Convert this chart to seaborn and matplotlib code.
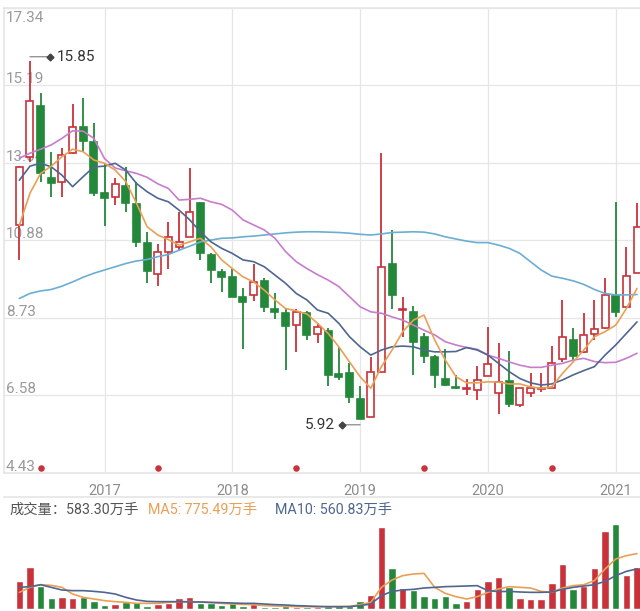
import numpy as np
import pandas as pd
import matplotlib
matplotlib.use("Agg")
import matplotlib.pyplot as plt
import matplotlib.transforms as mtransforms
import seaborn as sns

# monthly K-line, 2016-05 .. 2021-03 (59 candles)
open_px = [11.31, 13.2, 14.61, 12.62, 12.51, 13.31, 14.02, 13.62, 12.2, 12.08,
           12.4, 11.88, 10.82, 9.94, 10.57, 10.7, 10.98, 11.93, 10.47, 10.01,
           9.86, 9.3, 9.37, 9.75, 8.99, 8.86, 8.53, 8.86, 8.28, 8.38,
           7.17, 7.21, 6.47, 5.99, 7.24, 10.22, 8.95, 8.9, 8.21, 7.64,
           7.05, 6.82, 6.76, 6.73, 7.12, 6.65, 6.99, 6.31, 6.65, 6.76,
           6.8, 7.58, 8.13, 7.79, 8.28, 8.44, 9.34, 9.02, 9.98]
close_px = [12.91, 14.75, 12.74, 12.48, 13.25, 14.02, 13.65, 12.2, 12.06, 12.44,
            11.91, 10.84, 10.03, 10.57, 10.98, 10.85, 11.68, 10.52, 10.06, 9.87,
            9.32, 9.18, 9.73, 9.04, 8.9, 8.5, 8.9, 8.26, 8.49, 7.15,
            7.1, 6.53, 5.94, 7.24, 10.13, 9.37, 8.99, 8.07, 7.67, 7.15,
            6.87, 6.78, 6.8, 7.02, 7.44, 6.96, 6.34, 6.78, 6.8, 6.8,
            7.49, 8.19, 7.67, 8.26, 8.41, 9.37, 8.9, 9.89, 11.26]
high_px = [12.95, 15.85, 14.96, 13.34, 13.43, 14.66, 14.82, 14.14, 13.02, 12.6,
           12.91, 12.51, 11.12, 10.78, 11.4, 11.68, 12.88, 11.95, 10.54, 10.1,
           10.1, 9.55, 10.22, 9.83, 9.41, 8.97, 8.97, 8.93, 8.58, 8.44,
           7.93, 7.47, 6.84, 7.65, 13.31, 11.17, 9.32, 9.06, 8.3, 7.7,
           7.88, 7.15, 7.05, 7.39, 8.49, 8.03, 7.82, 6.78, 7.19, 7.19,
           7.95, 9.23, 8.44, 8.86, 9.23, 9.83, 11.95, 10.69, 11.93]
low_px = [10.34, 13.05, 12.51, 12.09, 12.09, 13.28, 13.34, 12.11, 11.28, 11.86,
          11.68, 10.7, 9.69, 9.62, 10.08, 10.6, 10.98, 10.35, 9.69, 9.44,
          9.32, 7.86, 9.21, 8.9, 8.69, 7.3, 7.79, 8.12, 8.03, 6.84,
          7.01, 6.36, 5.92, 5.99, 7.24, 8.99, 8.21, 7.15, 7.47, 6.78,
          6.84, 6.77, 6.59, 6.45, 7.12, 6.08, 6.27, 6.27, 6.55, 6.68,
          6.8, 7.51, 7.56, 7.77, 8.12, 8.41, 8.76, 9.0, 9.98]

# moving averages as drawn on the chart
ma5 = [11.3, 12.19, 12.74, 12.94, 13.2, 13.41, 13.34, 13.11, 13.02, 12.83,
       12.51, 11.91, 11.26, 11.03, 10.9, 10.75, 10.84, 10.94, 10.7, 10.34,
       10.1, 9.87, 9.73, 9.5, 9.23, 8.99, 8.93, 8.84, 8.58, 8.3,
       7.93, 7.51, 7.1, 6.78, 7.38, 7.84, 8.35, 8.67, 8.81, 8.12,
       7.56, 7.1, 6.93, 6.93, 6.96, 6.95, 6.9, 6.9, 6.82, 6.78,
       6.82, 7.19, 7.51, 7.84, 8.21, 8.35, 8.53, 8.99, 9.55]
ma10 = [12.55, 12.94, 13.02, 12.92, 12.69, 12.37, 12.65, 12.92, 12.94, 13.02,
        12.83, 12.46, 12.23, 12.05, 11.95, 11.72, 11.45, 11.12, 10.84, 10.66,
        10.52, 10.34, 10.29, 10.15, 9.92, 9.69, 9.41, 9.23, 8.95, 8.86,
        8.58, 8.21, 7.93, 7.7, 7.84, 7.93, 7.95, 7.93, 7.84, 7.79,
        7.79, 7.8, 7.91, 7.84, 7.7, 7.47, 7.24, 7.05, 6.93, 6.87,
        6.9, 7.01, 7.15, 7.27, 7.38, 7.7, 7.98, 8.3, 8.62]
ma20 = [13.16, 13.3, 13.41, 13.53, 13.71, 13.92, 13.91, 13.71, 13.15, 12.89,
        12.81, 12.74, 12.63, 12.45, 12.32, 12.0, 12.02, 12.05, 11.95, 11.88,
        11.72, 11.45, 11.31, 11.17, 10.94, 10.57, 10.29, 10.1, 9.93, 9.78,
        9.6, 9.32, 9.04, 8.9, 8.86, 8.76, 8.67, 8.53, 8.39, 8.26,
        8.07, 7.98, 7.91, 7.86, 7.7, 7.61, 7.51, 7.42, 7.36, 7.36,
        7.42, 7.47, 7.56, 7.61, 7.52, 7.49, 7.5, 7.61, 7.75]
ma60 = [9.27, 9.41, 9.48, 9.52, 9.61, 9.73, 9.86, 9.97, 10.06, 10.15,
        10.24, 10.31, 10.35, 10.43, 10.49, 10.61, 10.72, 10.84, 10.89, 10.94,
        10.95, 10.98, 11.0, 11.03, 11.06, 11.09, 11.11, 11.12, 11.12, 11.11,
        11.1, 11.08, 11.05, 11.03, 11.06, 11.1, 11.11, 11.12, 11.11, 11.06,
        10.98, 10.92, 10.86, 10.82, 10.82, 10.75, 10.66, 10.52, 10.29, 10.06,
        9.89, 9.83, 9.76, 9.66, 9.52, 9.41, 9.37, 9.37, 9.38]

# volume in 万手
volume = [387, 593, 327, 154, 173, 154, 173, 117, 61, 70,
          93, 93, 47, 70, 79, 154, 173, 79, 79, 61,
          79, 47, 70, 33, 33, 47, 33, 23, 23, 47,
          61, 47, 107, 201, 1153, 574, 294, 266, 187, 154,
          182, 89, 107, 275, 387, 453, 303, 154, 140, 140,
          359, 630, 280, 327, 574, 1097, 1190, 481, 583.30]
vol_ma5 = [233, 303, 340, 331, 303, 210, 163, 140, 117, 103,
           93, 79, 79, 79, 93, 103, 103, 98, 89, 79,
           70, 65, 61, 47, 42, 37, 33, 33, 28, 33,
           33, 37, 61, 93, 303, 406, 467, 490, 499, 303,
           219, 173, 140, 173, 233, 280, 313, 303, 294, 247,
           233, 294, 327, 340, 397, 560, 700, 747, 775.49]
vol_ma10 = [303, 313, 340, 303, 266, 257, 257, 247, 233, 210,
            163, 126, 107, 103, 103, 103, 98, 98, 93, 89,
            84, 79, 79, 70, 61, 56, 47, 42, 37, 33,
            33, 33, 47, 70, 187, 247, 266, 275, 294, 303,
            313, 317, 322, 327, 257, 243, 247, 238, 233, 233,
            238, 275, 303, 322, 340, 387, 467, 527, 560.83]

year_labels = ["2017", "2018", "2019", "2020", "2021"]
year_pos = [8, 20, 32, 44, 56]          # january candles
event_pos = [2, 13, 26, 38, 50]         # red dots at the bottom
price_ticks = [4.43, 6.58, 8.73, 10.88, 13.04, 15.19, 17.34]

RED = "#c9323b"
GREEN = "#23883a"
C_MA5 = "#e9a055"
C_MA10 = "#4f6690"
C_MA20 = "#c77dcc"
C_MA60 = "#6aaed2"
GRID = "#e6e6e6"

sns.set_theme(style="white")
plt.rcParams["font.family"] = ["Roboto", "Noto Sans CJK SC", "DejaVu Sans"]

idx = np.arange(len(close_px))
o = np.asarray(open_px)
c = np.asarray(close_px)
h = np.asarray(high_px)
l = np.asarray(low_px)
up = c >= o
body_lo = np.minimum(o, c)
body_hi = np.maximum(o, c)
colors = np.where(up, RED, GREEN)

fig = plt.figure(figsize=(6.4, 6.11), dpi=100)
ax = fig.add_axes([4 / 640, 1 - 473 / 611, 636 / 640, 465.5 / 611])
vax = fig.add_axes([4 / 640, 1 - 609 / 611, 636 / 640, 112 / 611])

xlim = (-1.44, 58.28)

# ---- price panel ----
ax.set_xlim(*xlim)
ax.set_ylim(price_ticks[0], price_ticks[-1])
ax.set_yticks(price_ticks)
ax.set_yticklabels([])
ax.set_xticks(year_pos)
ax.set_xticklabels(year_labels)
ax.grid(True, color=GRID, lw=0.9)
ax.tick_params(axis="x", length=0, pad=8, labelsize=10.5, labelcolor="#8c8c8c")
ax.tick_params(axis="y", length=0)
ax.spines["right"].set_visible(False)
for s in ["left", "top", "bottom"]:
    ax.spines[s].set_color(GRID)

# price labels sit inside the plot, on top of their grid line
lab_tr = mtransforms.blended_transform_factory(ax.transAxes, ax.transData)
for t in price_ticks:
    if t == price_ticks[-1]:
        tr = mtransforms.offset_copy(lab_tr, fig=fig, x=2, y=-4, units="dots")
        va = "top"
    else:
        tr = mtransforms.offset_copy(lab_tr, fig=fig, x=2, y=2, units="dots")
        va = "baseline"
    ax.text(0, t, f"{t:.2f}", transform=tr, va=va, ha="left",
            fontsize=11, color="#9a9a9a", zorder=1)

# candles
ax.vlines(idx, body_hi, h, colors=colors, lw=1.3, zorder=3)
ax.vlines(idx, l, body_lo, colors=colors, lw=1.3, zorder=3)
ax.bar(idx, body_hi - body_lo, bottom=body_lo, width=0.66,
       color=np.where(up, "white", GREEN), edgecolor=colors, linewidth=1.2, zorder=4)

for vals, col in [(ma60, C_MA60), (ma20, C_MA20), (ma10, C_MA10), (ma5, C_MA5)]:
    sns.lineplot(x=idx, y=vals, ax=ax, color=col, lw=1.2, zorder=5)
ax.set_xlabel("")
ax.set_ylabel("")

# event dots
dot_tr = mtransforms.blended_transform_factory(ax.transData, ax.transAxes)
ax.scatter(event_pos, [0.011] * len(event_pos), transform=dot_tr, s=22,
           color=RED, zorder=6, clip_on=False, linewidths=0)


def mark_extreme(i, val, side, dy, length):
    base = mtransforms.offset_copy(ax.transData, fig=fig, x=0, y=dy, units="dots")
    tip = mtransforms.offset_copy(ax.transData, fig=fig, x=length * side, y=dy, units="dots")
    ax.annotate("", xy=(i, val), xycoords=base, xytext=(length * side, 0),
                textcoords="offset pixels",
                arrowprops=dict(arrowstyle="-", color="#8a8a8a", lw=0.9,
                                shrinkA=0, shrinkB=0), zorder=7)
    ax.plot([i], [val], marker="D", ms=3.5, color="#444444", transform=tip, zorder=7)
    ax.annotate(f"{val:.2f}", xy=(i, val), xycoords=base,
                xytext=((length + 7) * side, 0), textcoords="offset pixels",
                ha="left" if side > 0 else "right", va="center",
                fontsize=11, color="#333333", zorder=7)


i_hi = int(np.argmax(h))
i_lo = int(np.argmin(l))
mark_extreme(i_hi, h[i_hi], 1, 4.5, 20)
mark_extreme(i_lo, l[i_lo], -1, -5.5, 18)

# ---- volume panel ----
vol_df = pd.DataFrame({"i": idx, "v": volume, "dir": np.where(up, "up", "down")})
sns.barplot(data=vol_df, x="i", y="v", hue="dir", palette={"up": RED, "down": GREEN},
            native_scale=True, width=0.7, dodge=False, saturation=1,
            errorbar=None, legend=False, ax=vax)
sns.lineplot(x=idx, y=vol_ma5, ax=vax, color=C_MA5, lw=1.2)
sns.lineplot(x=idx, y=vol_ma10, ax=vax, color=C_MA10, lw=1.2)
vax.set_xlim(*xlim)
vax.set_ylim(0, 1568)
vax.set_xticks([])
vax.set_yticks([])
vax.set_xlabel("")
vax.set_ylabel("")
for s in ["left", "right", "bottom"]:
    vax.spines[s].set_visible(False)
vax.spines["top"].set_color(GRID)

hy = 1 - 510 / 611
fig.text(10 / 640, hy, f"成交量：{volume[-1]:.2f}万手", fontsize=10.3, color="#555555", va="center")
fig.text(148 / 640, hy, f"MA5: {vol_ma5[-1]:.2f}万手", fontsize=10.3, color=C_MA5, va="center")
fig.text(275 / 640, hy, f"MA10: {vol_ma10[-1]:.2f}万手", fontsize=10.3, color=C_MA10, va="center")

fig.savefig("out.png", dpi=100)
